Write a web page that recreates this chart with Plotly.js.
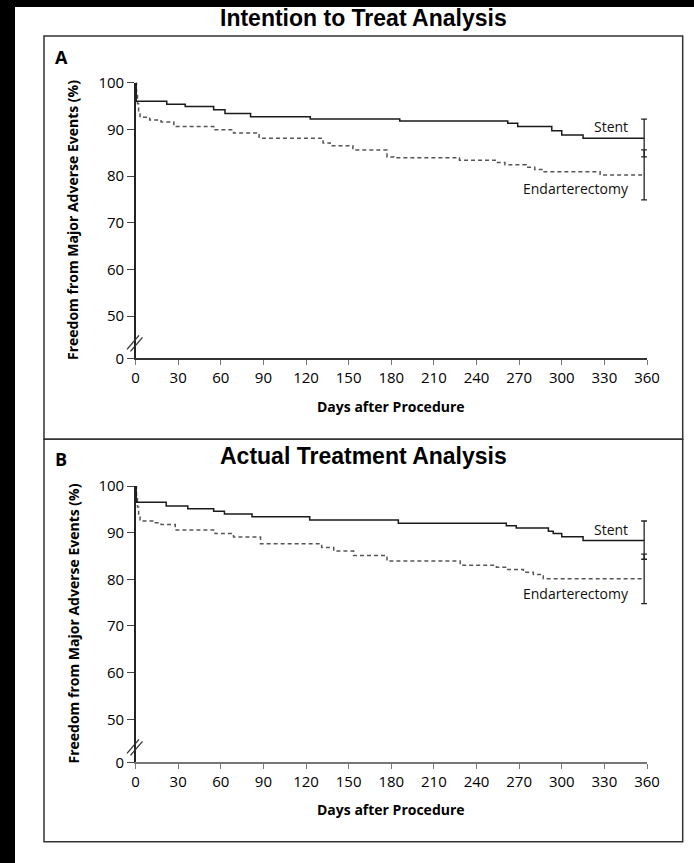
<!DOCTYPE html>
<html>
<head>
<meta charset="utf-8">
<script src="https://cdn.plot.ly/plotly-3.0.1.min.js"></script>
<style>html,body{margin:0;padding:0;background:#fff;}#chart{width:694px;height:863px;}</style>
</head>
<body>
<div id="chart"></div>
<script>
// ---------- DATA ----------
const panelTitles = ["Intention to Treat Analysis", "Actual Treatment Analysis"];
const panelLetters = ["A", "B"];
const seriesNames = ["Stent", "Endarterectomy"];
const dayTicks = [0, 30, 60, 90, 120, 150, 180, 210, 240, 270, 300, 330, 360];
const yTickValues = [50, 60, 70, 80, 90, 100];
const yTickLabels = ["50", "60", "70", "80", "90", "100"];
const yBreakLabel = "0";

// Panel A – intention to treat
const stentDaysA = [0, 0.5, 22, 35, 55, 63, 81, 123, 186, 262, 269, 293, 300, 315, 358];
const stentFreeA = [100, 96.0, 95.4, 94.9, 94.2, 93.4, 92.7, 92.2, 91.8, 91.3, 90.6, 89.7, 88.8, 88.1, 88.1];
const endDaysA = [0, 0.7, 1.4, 2.2, 3.2, 10, 18, 27, 55, 69, 87, 132, 137, 153, 177, 182, 228, 254, 260, 275, 281, 287, 327, 358];
const endFreeA = [100, 97.5, 95.5, 93.8, 92.6, 92.0, 91.6, 90.6, 89.9, 89.2, 88.1, 87.1, 86.5, 85.6, 84.1, 83.9, 83.4, 82.9, 82.4, 81.9, 81.4, 80.9, 80.2, 80.2];
const ciDayA = 358;
const stentCIA = [84.1, 88.1, 92.2];   // lower, estimate, upper
const endCIA = [74.9, 80.2, 85.6];

// Panel B – actual treatment
const stentDaysB = [0, 0.5, 21.6, 36.8, 55, 62.6, 82, 122.6, 185, 261, 268, 290.6, 294, 300, 315, 358];
const stentFreeB = [100, 96.5, 95.7, 95.1, 94.6, 94.0, 93.4, 92.7, 92.0, 91.5, 91.0, 90.3, 89.8, 89.1, 88.3, 88.3];
const endDaysB = [0, 0.7, 1.4, 2.2, 3.2, 14, 18, 28, 56, 69, 88, 131, 139.5, 153.5, 177, 228.5, 254, 261, 273, 280, 287, 358];
const endFreeB = [100, 97.5, 95.5, 93.8, 92.5, 92.1, 91.75, 90.55, 89.8, 89.05, 87.6, 86.8, 86.05, 85.1, 83.9, 83.0, 82.6, 82.1, 81.5, 81.05, 80.1, 80.1];
const ciDayB = 358;
const stentCIB = [84.3, 88.3, 92.5];
const endCIB = [74.8, 80.1, 85.4];

// ---------- GEOMETRY (pixels) ----------
const W = 694, H = 863;
const px = v => v / W;
const py = v => 1 - v / H;
const X0 = 135.5, X1 = 647;
const panels = [
  {top: 82.7, bottom: 358.3, fifty: 316.0, boxTop: 36, boxBot: 439.3, title: 18, letter: 57, ytitle: 220.5, xtitle: 406.5, stent: 127, endo: 188.5},
  {top: 486.0, bottom: 762.3, fifty: 719.3, boxTop: 439.3, boxBot: 841.7, title: 456, letter: 459, ytitle: 624, xtitle: 809.5, stent: 529.5, endo: 593.3}
];
// axis value drawn at the bottom ("0" after the break)
panels.forEach(p => { const ppu = (p.fifty - p.top) / 50; p.ybreak = 50 - (p.bottom - p.fifty) / ppu; });

const data = [];
const sets = [
  {sd: stentDaysA, sf: stentFreeA, ed: endDaysA, ef: endFreeA, cd: ciDayA, sc: stentCIA, ec: endCIA},
  {sd: stentDaysB, sf: stentFreeB, ed: endDaysB, ef: endFreeB, cd: ciDayB, sc: stentCIB, ec: endCIB}
];
sets.forEach((s, i) => {
  const xa = i === 0 ? 'x' : 'x2', ya = i === 0 ? 'y' : 'y2';
  data.push({x: s.ed, y: s.ef, xaxis: xa, yaxis: ya, mode: 'lines', name: seriesNames[1],
    line: {shape: 'hv', color: '#555', width: 1.5, dash: '4px,3px'}, hoverinfo: 'x+y'});
  data.push({x: s.sd, y: s.sf, xaxis: xa, yaxis: ya, mode: 'lines', name: seriesNames[0],
    line: {shape: 'hv', color: '#1a1a1a', width: 1.5}, hoverinfo: 'x+y'});
  [s.sc, s.ec].forEach(ci => {
    data.push({x: [s.cd], y: [ci[1]], xaxis: xa, yaxis: ya, mode: 'markers',
      marker: {size: 1, color: 'rgba(0,0,0,0)'},
      error_y: {type: 'data', symmetric: false, array: [ci[2] - ci[1]], arrayminus: [ci[1] - ci[0]],
        color: '#222', thickness: 1.3, width: 3}, hoverinfo: 'skip'});
  });
});

const tickFont = {family: 'Open Sans, sans-serif', size: 15, color: '#000'};
function xAxis(anchor, lineColor, lineWidth) {
  return {domain: [px(X0), px(X1)], range: [0, 360], anchor: anchor, tickvals: dayTicks,
    ticktext: dayTicks.map(String), ticks: 'outside', ticklen: 5, tickwidth: 1, tickcolor: '#777',
    showline: true, linecolor: lineColor, linewidth: lineWidth, showgrid: false, zeroline: false,
    tickfont: tickFont, fixedrange: true};
}
function yAxis(p, anchor) {
  return {domain: [py(p.bottom), py(p.top)], range: [p.ybreak, 100], anchor: anchor,
    tickvals: [p.ybreak].concat(yTickValues), ticktext: [yBreakLabel].concat(yTickLabels),
    ticks: 'outside', ticklen: 7, tickwidth: 1, tickcolor: '#444',
    showline: true, linecolor: '#222', linewidth: 1.3, showgrid: false, zeroline: false,
    tickfont: tickFont, fixedrange: true};
}

const shapes = [
  {type: 'rect', xref: 'paper', yref: 'paper', x0: 0, x1: px(15), y0: 0, y1: 1, fillcolor: '#000', line: {width: 0}},
  {type: 'rect', xref: 'paper', yref: 'paper', x0: 0, x1: 1, y0: py(7), y1: 1, fillcolor: '#000', line: {width: 0}}
];
const annotations = [];
const boldFont = {family: 'Open Sans, sans-serif', size: 14, color: '#000'};
const labelFont = {family: 'Open Sans, sans-serif', size: 14, color: '#111'};
panels.forEach((p, i) => {
  shapes.push({type: 'rect', xref: 'paper', yref: 'paper', x0: px(44), x1: px(682.7), y0: py(p.boxBot), y1: py(p.boxTop),
    line: {color: '#333', width: 1.5}, fillcolor: 'rgba(0,0,0,0)'});
  // axis break marks
  const b = p.bottom;
  [[127, b - 9, 139, b - 23], [130.5, b - 7, 142.5, b - 21]].forEach(l => {
    shapes.push({type: 'line', xref: 'paper', yref: 'paper', x0: px(l[0]), y0: py(l[1]), x1: px(l[2]), y1: py(l[3]),
      line: {color: '#333', width: 1.3}});
  });
  annotations.push({xref: 'paper', yref: 'paper', x: px(363), y: py(p.title), text: '<b>' + panelTitles[i] + '</b>',
    showarrow: false, xanchor: 'center', yanchor: 'middle', font: {family: 'Liberation Sans, Arial, sans-serif', size: 23, color: '#000'}});
  annotations.push({xref: 'paper', yref: 'paper', x: px(61), y: py(p.letter), text: '<b>' + panelLetters[i] + '</b>',
    showarrow: false, xanchor: 'center', yanchor: 'middle', font: {family: 'Open Sans, sans-serif', size: 18, color: '#000'}});
  annotations.push({xref: 'paper', yref: 'paper', x: px(72.5), y: py(p.ytitle), text: '<b>Freedom from Major Adverse Events (%)</b>',
    textangle: -90, showarrow: false, xanchor: 'center', yanchor: 'middle', font: boldFont});
  annotations.push({xref: 'paper', yref: 'paper', x: px(391), y: py(p.xtitle), text: '<b>Days after Procedure</b>',
    showarrow: false, xanchor: 'center', yanchor: 'middle', font: boldFont});
  annotations.push({xref: 'paper', yref: 'paper', x: px(630), y: py(p.stent), text: seriesNames[0],
    showarrow: false, xanchor: 'right', yanchor: 'middle', font: labelFont});
  annotations.push({xref: 'paper', yref: 'paper', x: px(631), y: py(p.endo), text: seriesNames[1],
    showarrow: false, xanchor: 'right', yanchor: 'middle', font: labelFont});
});

const layout = {
  width: W, height: H, margin: {l: 0, r: 0, t: 0, b: 0, pad: 0},
  paper_bgcolor: '#fff', plot_bgcolor: 'rgba(0,0,0,0)', showlegend: false,
  xaxis: xAxis('y', '#333', 1.3), yaxis: yAxis(panels[0], 'x'),
  xaxis2: xAxis('y2', '#777', 2), yaxis2: yAxis(panels[1], 'x2'),
  shapes: shapes, annotations: annotations
};
Plotly.newPlot('chart', data, layout, {displayModeBar: false, staticPlot: true});
</script>
</body>
</html>
